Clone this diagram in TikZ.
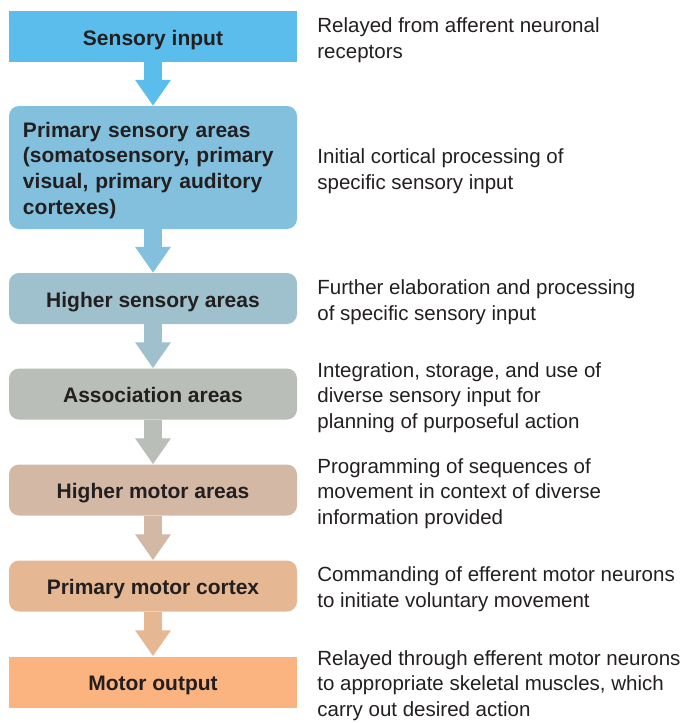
\documentclass[tikz,border=0pt]{standalone}
\usepackage{fontspec}
\setmainfont{Liberation Sans}
\usetikzlibrary{arrows.meta,positioning}

\definecolor{textgray}{HTML}{231F20}
\definecolor{sensblue}{HTML}{5ABDEC}
\definecolor{primblue}{HTML}{82C0DD}
\definecolor{highblue}{HTML}{9FC1CD}
\definecolor{assocgray}{HTML}{B9BEB8}
\definecolor{hmotortan}{HTML}{D3B9A5}
\definecolor{pmotortan}{HTML}{E6B793}
\definecolor{outorange}{HTML}{FBB480}

\begin{document}
\begin{tikzpicture}[
  x=1pt, y=-1pt,
  box/.style={rectangle, rounded corners=10pt, minimum width=288pt, minimum height=51pt, inner sep=0pt, align=center, text height=17pt, text depth=0pt, text=textgray, font=\fontsize{21}{25.7}\selectfont\bfseries},
  sqbox/.style={box, sharp corners},
  note/.style={right=20pt, yshift=-3.5pt, inner sep=0pt, align=left, text=textgray, font=\fontsize{20.5}{25.7}\selectfont},
  flow/.style={line width=18pt, -{Triangle[width=34pt, length=26pt]}}
]
\useasboundingbox (0,0) rectangle (685,723);

\node[sqbox, fill=sensblue] (sens) at (153, 36.5) {Sensory input};
\node[box, fill=primblue, minimum height=123pt, text width=260pt, align=left, text height=21pt, text depth={}] (prim) at (153, 167.5) {Primary sensory areas\\(somatosensory, primary\\visual, primary auditory\\cortexes)};
\node[box, fill=highblue] (high) at (153, 298.5) {Higher sensory areas};
\node[box, fill=assocgray] (assoc) at (153, 394) {Association areas};
\node[box, fill=hmotortan] (hmotor) at (153, 490) {Higher motor areas};
\node[box, fill=pmotortan] (pmotor) at (153, 586) {Primary motor cortex};
\node[sqbox, fill=outorange] (out) at (153, 682) {Motor output};

\node[note] (sensnote) at (sens.east) {Relayed from afferent neuronal\\receptors};
\node[note] (primnote) at (prim.east) {Initial cortical processing of\\specific sensory input};
\node[note] (highnote) at (high.east) {Further elaboration and processing\\of specific sensory input};
\node[note] (assocnote) at (assoc.east) {Integration, storage, and use of\\diverse sensory input for\\planning of purposeful action};
\node[note] (hmotornote) at (hmotor.east) {Programming of sequences of\\movement in context of diverse\\information provided};
\node[note] (pmotornote) at (pmotor.east) {Commanding of efferent motor neurons\\to initiate voluntary movement};
\node[note] (outnote) at (out.east) {Relayed through efferent motor neurons\\to appropriate skeletal muscles, which\\carry out desired action};

\draw[flow, draw=sensblue] (sens) -- (prim);
\draw[flow, draw=primblue] (prim) -- (high);
\draw[flow, draw=highblue] (high) -- (assoc);
\draw[flow, draw=assocgray] (assoc) -- (hmotor);
\draw[flow, draw=hmotortan] (hmotor) -- (pmotor);
\draw[flow, draw=pmotortan] (pmotor) -- (out);

\end{tikzpicture}
\end{document}
